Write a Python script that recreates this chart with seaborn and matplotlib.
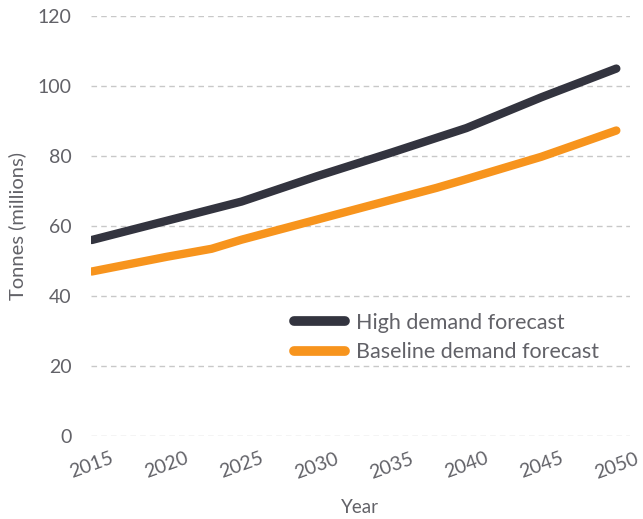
import seaborn as sns
import matplotlib.pyplot as plt
import pandas as pd

# data
high_years = [2015, 2020, 2025, 2030, 2035, 2040, 2045, 2050]
high_values = [56, 61.5, 67, 74.2, 81, 88, 96.8, 105]
base_years = [2015, 2020, 2023, 2025, 2030, 2035, 2038, 2040, 2045, 2050]
base_values = [47, 51.2, 53.5, 56.1, 61.8, 67.5, 70.9, 73.4, 79.8, 87.3]
series_names = ["High demand forecast", "Baseline demand forecast"]
tick_years = [2015, 2020, 2025, 2030, 2035, 2040, 2045, 2050]
y_ticks = [0, 20, 40, 60, 80, 100, 120]

df = pd.concat([
    pd.DataFrame({"Year": high_years, "Tonnes": high_values, "Series": series_names[0]}),
    pd.DataFrame({"Year": base_years, "Tonnes": base_values, "Series": series_names[1]}),
])

sns.set_theme(style="white")
plt.rcParams["font.family"] = ["Lato", "DejaVu Sans"]
text_col = "#626268"

fig = plt.figure(figsize=(6.43, 5.19), dpi=100)
ax = fig.add_axes([0.1415, 0.16, 0.838, 0.809])

p = sns.lineplot(data=df, x="Year", y="Tonnes", hue="Series", hue_order=series_names,
                 palette=["#33343f", "#f7941d"], linewidth=6,
                 solid_capstyle="round", ax=ax)

ax.set_ylim(0, 120)
ax.set_xlim(2014.95, 2050.9)
ax.set_yticks(y_ticks)
ax.set_xticks(tick_years)
ax.set_xticklabels([str(y) for y in tick_years], rotation=20, ha="center")
ax.yaxis.grid(True, linestyle=(0, (4, 3)), color="#c8c8c8", linewidth=1)
ax.xaxis.grid(False)
sns.despine(ax=ax, left=True, bottom=True)
ax.tick_params(axis="both", length=0, labelsize=14, labelcolor=text_col)
ax.tick_params(axis="y", pad=14)
ax.tick_params(axis="x", pad=10)

ax.set_xlabel("Year", fontsize=13.5, color=text_col, labelpad=13)
ax.set_ylabel("Tonnes (millions)", fontsize=14.5, color=text_col, labelpad=8)

leg = ax.legend(loc="upper left", bbox_to_anchor=(0.34, 0.34), frameon=False,
                fontsize=15.5, handlelength=2.4, handletextpad=0.5, labelspacing=0.45)
for h in leg.get_lines():
    h.set_linewidth(7)
    h.set_solid_capstyle("round")
for t in leg.get_texts():
    t.set_color(text_col)

fig.savefig("out.png", dpi=100)
